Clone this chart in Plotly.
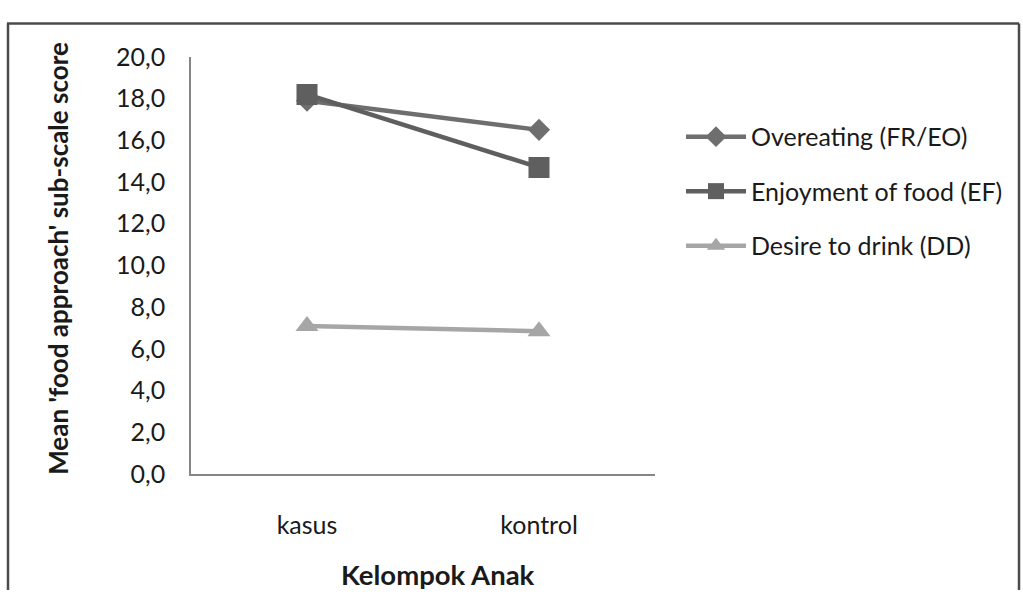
import plotly.graph_objects as go

categories = ["kasus", "kontrol"]
overeating = [17.9, 16.5]
enjoyment = [18.2, 14.7]
desire_drink = [7.1, 6.85]
series_names = ["Overeating (FR/EO)", "Enjoyment of food (EF)", "Desire to drink (DD)"]
y_ticks = [0, 2, 4, 6, 8, 10, 12, 14, 16, 18, 20]
y_tick_labels = ["0,0", "2,0", "4,0", "6,0", "8,0", "10,0", "12,0", "14,0", "16,0", "18,0", "20,0"]
x_title = "Kelompok Anak"
y_title = "Mean 'food approach' sub-scale score"

W, H = 1023, 604
FONT = "Lato"
TXT = "#1a1a1a"


def px(x):
    return x / W


def py(y):
    return 1 - y / H


fig = go.Figure()

styles = [
    dict(color="#6e6e6e", symbol="diamond", size=17),
    dict(color="#5f5f5f", symbol="square", size=21),
    dict(color="#a6a6a6", symbol="triangle-up", size=20),
]
for i, (name, vals) in enumerate(zip(series_names, [overeating, enjoyment, desire_drink])):
    st = styles[i]
    fig.add_trace(go.Scatter(
        x=categories, y=vals, name=name, mode="lines+markers",
        line=dict(color=st["color"], width=4.5),
        marker=dict(color=st["color"], symbol=st["symbol"], size=st["size"]),
        legendgroup=f"g{i}",
    ))

fig.update_layout(
    width=W, height=H,
    margin=dict(l=0, r=0, t=0, b=0),
    paper_bgcolor="white", plot_bgcolor="white",
    font=dict(family=FONT, color=TXT),
    showlegend=True,
    legend=dict(
        x=px(681), y=py(103), xanchor="left", yanchor="top",
        font=dict(family=FONT, size=25, color=TXT),
        itemwidth=60, tracegroupgap=19,
        bgcolor="rgba(0,0,0,0)",
    ),
    xaxis=dict(
        domain=[px(191), px(655)],
        type="category", range=[-0.5, 1.5],
        showline=True, linecolor="#868686", linewidth=1.5,
        showgrid=False, zeroline=False, ticks="",
        tickfont=dict(family=FONT, size=25, color=TXT),
        ticklabelstandoff=28,
    ),
    yaxis=dict(
        domain=[py(482), py(43)],
        range=[0, 20],
        tickvals=y_ticks, ticktext=y_tick_labels,
        showline=True, linecolor="#868686", linewidth=1.5,
        showgrid=False, zeroline=False, ticks="",
        tickfont=dict(family=FONT, size=25, color=TXT),
        ticklabelstandoff=19,
    ),
    annotations=[
        dict(text=f"<b>{y_title}</b>", xref="paper", yref="paper",
             x=px(58), y=py(255.5), xanchor="center", yanchor="middle",
             textangle=-90, showarrow=False,
             font=dict(family=FONT, size=26, color=TXT)),
        dict(text=f"<b>{x_title}</b>", xref="paper", yref="paper",
             x=px(438), y=py(588), xanchor="center", yanchor="middle",
             showarrow=False,
             font=dict(family=FONT, size=27.5, color=TXT)),
    ],
)

# chart border (bottom edge is outside the visible area)
for x0, y0, x1, y1 in [(7, 8, 1019, 8), (8, 8, 8, 604), (1019, 8, 1019, 604)]:
    fig.add_shape(type="line", xref="paper", yref="paper",
                  x0=px(x0), x1=px(x1), y0=py(y0), y1=py(y1),
                  line=dict(color="#4a4a4a", width=2.5))

post = (
    "document.documentElement.style.cssText='margin:0;padding:0;overflow:hidden;height:604px;';"
    "document.body.style.cssText='margin:0;padding:0;overflow:hidden;height:604px;width:1023px;';"
    "var d=document.getElementById('{plot_id}');"
    "d.style.position='fixed';d.style.top='0px';d.style.left='0px';"
)

fig.write_html(
    "out.html",
    config={"displayModeBar": False},
    post_script=post,
)
